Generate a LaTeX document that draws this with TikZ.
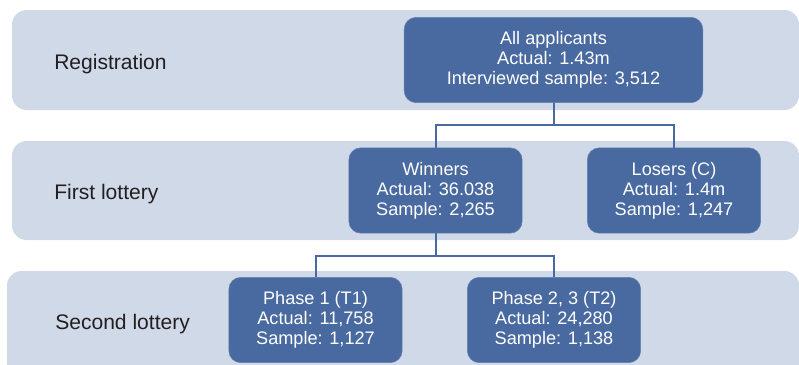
\documentclass[tikz,border=0pt]{standalone}
\usepackage{fontspec}
\setmainfont{Liberation Sans}
\usetikzlibrary{positioning}
\usetikzlibrary{calc}
\definecolor{bandblue}{RGB}{208,217,232}
\definecolor{boxblue}{RGB}{73,106,160}
\definecolor{labelgray}{RGB}{35,31,32}
\tikzstyle{band}=[fill=bandblue,rounded corners=11pt]
\tikzstyle{group}=[rectangle,rounded corners=9pt,fill=boxblue,draw=boxblue!85!white,text=white,align=center,minimum width=130pt,minimum height=64pt,inner sep=2pt,font=\fontsize{13.6}{15}\selectfont]
\tikzstyle{stage}=[anchor=west,inner sep=0pt,text=labelgray,font=\fontsize{15.8}{18}\selectfont]
\tikzstyle{link}=[draw=boxblue,line width=1.5pt]

\begin{document}
\begin{tikzpicture}[x=0.75pt,y=-0.75pt]
    % Picture frame, one unit is one pixel
    \clip (0,0) rectangle (799,364);

    % First we draw the three stage bands
    \path[band] (12,10) rectangle (799,110);
    \path[band] (12,141) rectangle (799,240);
    \path[band] (7,271) rectangle (799,390);

    \foreach \pos/\name/\label in {{(54,64)/reg/Registration}, {(54,194)/first/First lottery}, {(55,324)/second/Second lottery}}
        \node[stage] (\name) at \pos {\label};

    % Then the groups
    \node[group, minimum width=224pt] (all) at (553.5,60) {All applicants\\Actual: 1.43m\\Interviewed sample: 3,512};
    \node[group] (win) at (435.5,190.5) {Winners\\Actual: 36.038\\Sample: 2,265};
    \node[group] (lose) at (674,190.5) {Losers (C)\\Actual: 1.4m\\Sample: 1,247};
    \node[group] (ph1) at (315.5,320) {Phase 1 (T1)\\Actual: 11,758\\Sample: 1,127};
    \node[group] (ph2) at (554,320) {Phase 2, 3 (T2)\\Actual: 24,280\\Sample: 1,138};

    % Connect the groups
    \coordinate (fork1) at (0,125);
    \coordinate (fork2) at (0,256);
    \foreach \dest in {win, lose}
        \draw[link] (all.south) -- (all.south |- fork1) -| (\dest.north);
    \foreach \dest in {ph1, ph2}
        \draw[link] (win.south) -- (win.south |- fork2) -| (\dest.north);
\end{tikzpicture}
\end{document}
